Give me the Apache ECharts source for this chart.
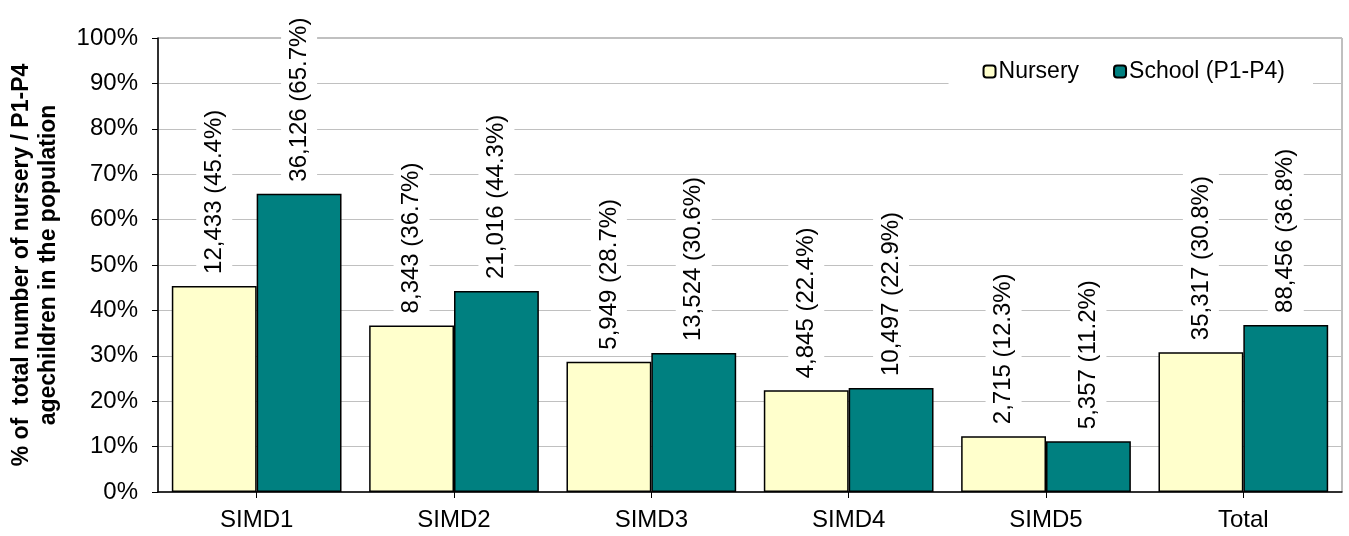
<!DOCTYPE html>
<html><head><meta charset="utf-8">
<script src="https://cdn.jsdelivr.net/npm/echarts@6/dist/echarts.min.js"></script>
<style>html,body{margin:0;padding:0;background:#fff}#c{width:1349px;height:536px}</style>
</head><body><div id="c"></div>
<script>
var categories = ['SIMD1','SIMD2','SIMD3','SIMD4','SIMD5','Total'];
var nurseryPct = [45.4, 36.7, 28.7, 22.4, 12.3, 30.8];
var schoolPct = [65.7, 44.3, 30.6, 22.9, 11.2, 36.8];
var nurseryCount = ['12,433','8,343','5,949','4,845','2,715','35,317'];
var schoolCount = ['36,126','21,016','13,524','10,497','5,357','88,456'];
var yTicks = [0,10,20,30,40,50,60,70,80,90,100];

var FONT = '"Liberation Sans", Arial, sans-serif';
var chart = echarts.init(document.getElementById('c'));
function lbl(counts){
  return {
    show: true, position: 'top', rotate: 90, distance: 10,
    align: 'left', verticalAlign: 'middle',
    fontFamily: FONT, fontSize: 24, color: '#000',
    backgroundColor: '#fff', padding: [6, 2],
    formatter: function(p){ return counts[p.dataIndex] + ' (' + p.value.toFixed(1) + '%)'; }
  };
}
chart.setOption({
  animation: false,
  textStyle: {fontFamily: FONT},
  grid: {left: 155, right: 7, top: 38, bottom: 44, show: true, borderColor: '#808080', borderWidth: 1},
  legend: {
    data: ['Nursery', 'School (P1-P4)'], right: 36, top: 54,
    backgroundColor: '#fff', padding: [6, 28, 6, 34],
    itemWidth: 12, itemHeight: 12, itemGap: 34,
    textStyle: {fontFamily: FONT, fontSize: 23, color: '#000', padding: [0,0,0,-2]}
  },
  xAxis: {
    type: 'category', data: categories,
    axisLine: {lineStyle: {color: '#000', width: 1.5}},
    axisTick: {show: true, alignWithLabel: true, length: 6, lineStyle: {color: '#000'}},
    axisLabel: {fontFamily: FONT, fontSize: 24, color: '#000', margin: 16}
  },
  yAxis: {
    type: 'value', min: 0, max: 100, interval: 10,
    name: '% of  total number of nursery / P1-P4\nagechildren in the population',
    nameLocation: 'middle', nameGap: 96, nameRotate: 90,
    nameTextStyle: {fontFamily: FONT, fontSize: 23, fontWeight: 'bold', color: '#000', lineHeight: 27},
    axisLine: {show: true, lineStyle: {color: '#000', width: 1.5}},
    axisTick: {show: true, length: 6, lineStyle: {color: '#000'}},
    axisLabel: {fontFamily: FONT, fontSize: 24, color: '#000', margin: 20,
      formatter: function(v){ return yTicks.indexOf(v) >= 0 ? v + '%' : ''; }},
    splitLine: {lineStyle: {color: '#c0c0c0', width: 1}}
  },
  series: [
    {name: 'Nursery', type: 'bar', data: nurseryPct, barGap: '0%', barCategoryGap: '14%',
      itemStyle: {color: '#FFFFCC', borderColor: '#000', borderWidth: 1.5}, label: lbl(nurseryCount)},
    {name: 'School (P1-P4)', type: 'bar', data: schoolPct, barGap: '0%', barCategoryGap: '14%',
      itemStyle: {color: '#008080', borderColor: '#000', borderWidth: 1.5}, label: lbl(schoolCount)}
  ]
});
</script></body></html>
